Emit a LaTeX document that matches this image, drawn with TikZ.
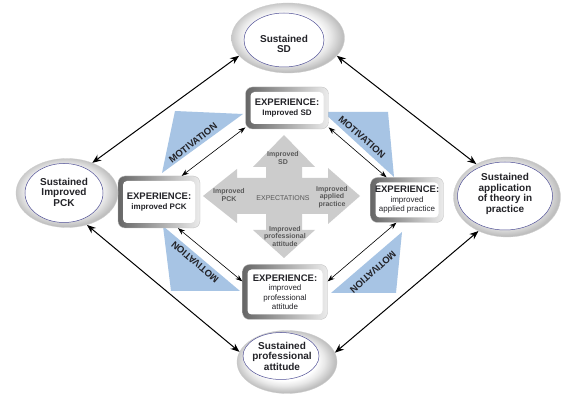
\documentclass[tikz,border=0pt]{standalone}
\usepackage{fontspec}
\setmainfont{Liberation Sans}
\usetikzlibrary{arrows.meta,shapes.geometric}
\definecolor{motblue}{RGB}{167,196,228}
\definecolor{txtdark}{RGB}{35,35,40}
\definecolor{ringline}{RGB}{80,80,150}
\pgfdeclareradialshading{ringshade}{\pgfpoint{-2bp}{2bp}}{color(0bp)=(white); color(16bp)=(white); color(20bp)=(gray!18); color(25bp)=(gray!50); color(50bp)=(gray!50)}
\newcommand\exphead{\fontsize{9.5}{11}\selectfont\bfseries EXPERIENCE:}

\begin{document}
\begin{tikzpicture}[x=1pt, y=-1pt,
  ring/.style={ellipse, shade, shading=ringshade, draw=gray!40, line width=0.3pt, inner sep=0pt},
  core/.style={ellipse, fill=white, draw=ringline, line width=0.5pt, inner sep=0pt},
  ringtxt/.style={align=center, font=\fontsize{10}{10.5}\selectfont\bfseries, text=txtdark, inner sep=0pt},
  expbox/.style={rectangle, rounded corners=7pt, inner sep=0pt, left color=gray!80!black, right color=gray!15,
    draw=gray!50, line width=0.3pt, align=center, text=txtdark, font=\fontsize{8}{9.5}\selectfont,
    path picture={\fill[white, rounded corners=4pt] ([shift={(5pt,-5pt)}]path picture bounding box.north west)
      rectangle ([shift={(-5pt,5pt)}]path picture bounding box.south east);}},
  crosstxt/.style={align=center, font=\fontsize{7}{7.5}\selectfont\bfseries, text=gray!70!black, inner sep=0pt},
  mot/.style={font=\fontsize{9.5}{10}\selectfont\bfseries, text=txtdark, inner sep=0pt},
  bigarr/.style={{Stealth[length=9pt,width=7pt]}-{Stealth[length=9pt,width=7pt]}, line width=1pt},
  smallarr/.style={{Stealth[length=7pt,width=5pt]}-{Stealth[length=7pt,width=5pt]}, line width=0.6pt}]
  \useasboundingbox[fill=white] (0,0) rectangle (576,403);

  % motivation wedges
  \fill[motblue] (175,111) -- (243,114) -- (162,173) -- cycle;
  \fill[motblue] (323,112) -- (388,112) -- (394,177) -- cycle;
  \fill[motblue] (163,226) -- (171,291) -- (240,291) -- cycle;
  \fill[motblue] (402,232) -- (331,293) -- (396,293) -- cycle;
  \node[mot, rotate=38] (m1) at (193,143) {MOTIVATION};
  \node[mot, rotate=-41] (m2) at (362,137) {MOTIVATION};
  \node[mot, rotate=140] (m3) at (195,262) {MOTIVATION};
  \node[mot, rotate=222] (m4) at (373,272) {MOTIVATION};

  % expectations cross
  \fill[gray!40] (284,135) -- (315,167) -- (302,167) -- (302,178) -- (328,178) -- (328,168) -- (360,196)
    -- (328,224) -- (328,214) -- (302,214) -- (302,230) -- (315,230) -- (284,258) -- (253,230) -- (266,230)
    -- (266,214) -- (237,214) -- (237,223) -- (203,196) -- (237,169) -- (237,178) -- (266,178) -- (266,167)
    -- (253,167) -- cycle;
  \node[crosstxt] (xSD) at (283,158) {Improved\\SD};
  \node[crosstxt] (xPCK) at (229,195) {Improved\\PCK};
  \node[crosstxt, font=\fontsize{7}{7.5}\selectfont] (xExp) at (283,198) {EXPECTATIONS};
  \node[crosstxt] (xApp) at (332,197) {Improved\\applied\\practice};
  \node[crosstxt] (xAtt) at (285,236) {Improved\\professional\\attitude};

  % experience boxes
  \node[expbox, minimum width=83pt, minimum height=42pt] (eSD) at (287,108) {\exphead\\ \bfseries Improved SD};
  \node[expbox, minimum width=82pt, minimum height=52pt] (ePCK) at (159,202) {\exphead\\ \bfseries improved PCK};
  \node[expbox, minimum width=73pt, minimum height=45pt] (eApp) at (407,200) {\exphead\\ improved\\ applied practice};
  \node[expbox, minimum width=85pt, minimum height=55pt] (eAtt) at (285,292) {\exphead\\ improved\\ professional\\ attitude};

  % sustained outcomes
  \node[ring, minimum width=113pt, minimum height=70pt] (sSD) at (288,38) {};
  \node[core, minimum width=80pt, minimum height=54pt] (sSDin) at (284,40) {};
  \node[ringtxt] (sSDt) at (284,44) {Sustained\\SD};
  \node[ring, minimum width=102pt, minimum height=69pt] (sPCK) at (67,193) {};
  \node[core, minimum width=78pt, minimum height=59pt] (sPCKin) at (64,193) {};
  \node[ringtxt] (sPCKt) at (64,192) {Sustained\\Improved\\PCK};
  \node[ring, minimum width=107pt, minimum height=80pt] (sApp) at (507,197) {};
  \node[core, minimum width=95pt, minimum height=68pt] (sAppin) at (505,196) {};
  \node[ringtxt] (sAppt) at (505,194) {Sustained\\application\\of theory in\\practice};
  \node[ring, minimum width=100pt, minimum height=63pt] (sAtt) at (287,362) {};
  \node[core, minimum width=76pt, minimum height=47pt] (sAttin) at (281,356) {};
  \node[ringtxt] (sAttt) at (282,356) {Sustained\\professional\\attitude};

  % links
  \draw[bigarr] (sSD.200) -- (sPCK.50);
  \draw[bigarr] (sSD.340) -- (sApp.133);
  \draw[bigarr] (sPCK.302) -- (sAtt.168);
  \draw[bigarr] (sApp.230) -- (sAtt.11);
  \draw[smallarr] (eSD.205) -- (ePCK.49);
  \draw[smallarr] (eSD.335) -- (eApp.132);
  \draw[smallarr] (ePCK.306) -- (eAtt.166);
  \draw[smallarr] (eApp.245) -- (eAtt.14);
\end{tikzpicture}
\end{document}
